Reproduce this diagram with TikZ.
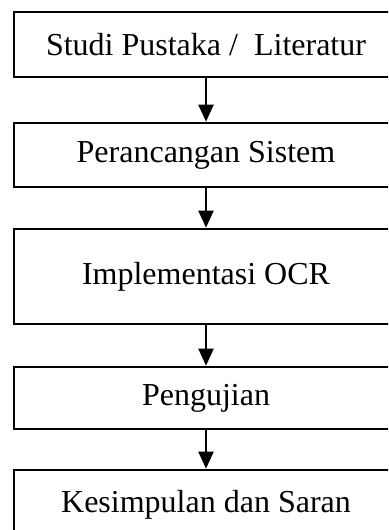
\documentclass[tikz,border=0pt]{standalone}
\usepackage{fontspec}
\setmainfont{Liberation Serif}
\usetikzlibrary{arrows.meta}
\begin{document}
\begin{tikzpicture}[x=0.5pt,y=-0.5pt,
  tahap/.style={draw,line width=1.3pt,minimum width=192pt,inner sep=0pt,
    font=\fontsize{16}{19}\selectfont},
  panah/.style={-{Triangle[width=7.5pt,length=8.5pt]},line width=1pt}]
  \useasboundingbox (0,0) rectangle (388,530);
  \clip (0,0) rectangle (388,530);
  \node[tahap,minimum height=32.5pt] (1) at (206,44.5) {Studi Pustaka /~ Literatur};
  \node[tahap,minimum height=32pt] (2) at (206,155) {Perancangan Sistem};
  \node[tahap,minimum height=47.5pt] (3) at (206,276.5) {Implementasi OCR};
  \node[tahap,minimum height=31pt] (4) at (206,398) {Pengujian};
  \node[tahap,minimum height=35pt] (5) at (206,505) {Kesimpulan dan Saran};
  \draw[panah] (1)--(2);
  \draw[panah] (2)--(3);
  \draw[panah] (3)--(4);
  \draw[panah] (4)--(5);
\end{tikzpicture}
\end{document}
